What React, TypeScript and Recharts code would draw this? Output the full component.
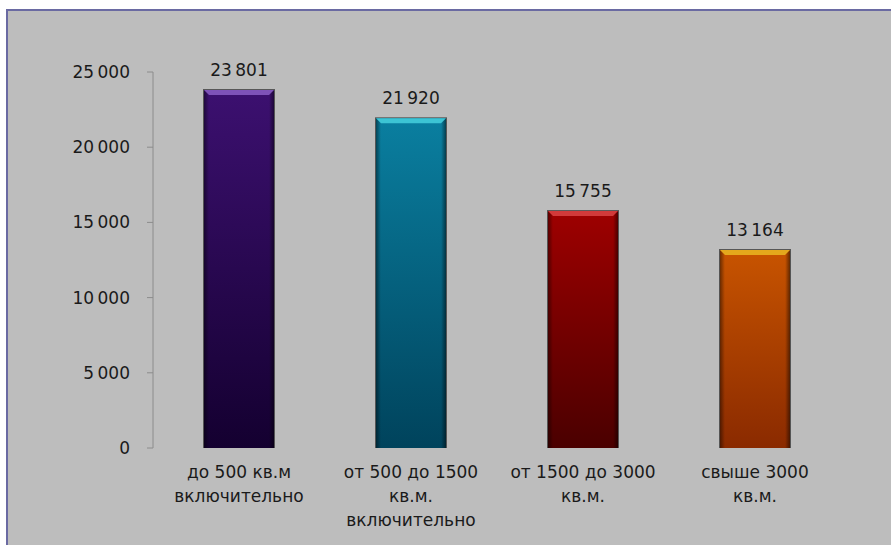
import { BarChart, Bar, XAxis, YAxis, LabelList } from 'recharts';

const categories = [
  'до 500 кв.м\nвключительно',
  'от 500 до 1500\nкв.м.\nвключительно',
  'от 1500 до 3000\nкв.м.',
  'свыше 3000\nкв.м.',
];
const values = [23801, 21920, 15755, 13164];
const yTicks = [0, 5000, 10000, 15000, 20000, 25000];

// top, bottom, bevel colours per bar
const barColors = [
  { top: '#3c1070', bottom: '#140030', bevel: '#7e52b8' },
  { top: '#0a7fa0', bottom: '#00435c', bevel: '#3cc4d4' },
  { top: '#9e0000', bottom: '#4a0000', bevel: '#d23a3a' },
  { top: '#c85400', bottom: '#8a2a00', bevel: '#e4a81c' },
];

const data = categories.map((name, i) => ({ name, value: values[i], idx: i }));

// thin space as thousands separator, like the original
const fmt = (v: number) => String(v).replace(/\B(?=(\d{3})+(?!\d))/g, '\u2009');

const FONT = '"DejaVu Sans", Verdana, sans-serif';

const BarShape = (props: any) => {
  const { x, y, width, height, index } = props;
  if (!height || height <= 0) return null;
  const b = 5;
  return (
    <g>
      <rect x={x - 1} y={y - 1} width={width + 2} height={height + 1} fill="#000" opacity={0.55} />
      <rect x={x} y={y} width={width} height={height} fill={`url(#bar-v-${index})`} />
      <rect x={x} y={y} width={width} height={height} fill="url(#bar-edge)" />
      <polygon
        points={`${x},${y} ${x + width},${y} ${x + width - b},${y + b} ${x + b},${y + b}`}
        fill={barColors[index].bevel}
      />
    </g>
  );
};

const CatTick = (props: any) => {
  const { x, y, payload } = props;
  const lines = String(payload.value).split('\n');
  return (
    <text x={x} y={y} textAnchor="middle" fontFamily={FONT} fontSize={17} fill="#1a1a1a">
      {lines.map((l, i) => (
        <tspan key={i} x={x} dy={i === 0 ? 30 : 24}>
          {l}
        </tspan>
      ))}
    </text>
  );
};

export default function App() {
  return (
    <div style={{ position: 'absolute', left: 0, top: 0, width: 891, height: 545, background: '#fff' }}>
      <div
        style={{
          position: 'absolute',
          left: 6,
          top: 9,
          right: 0,
          bottom: 0,
          background: '#bdbdbd',
          borderTop: '2px solid #6a6aa2',
          borderLeft: '2px solid #6a6aa2',
        }}
      />
      <div style={{ position: 'absolute', left: 0, top: 0 }}>
        <BarChart width={891} height={545} data={data} margin={{ top: 72, right: 50, bottom: 0, left: 0 }}>
          <defs>
            {barColors.map((c, i) => (
              <linearGradient key={i} id={`bar-v-${i}`} x1="0" y1="0" x2="0" y2="1">
                <stop offset="0%" stopColor={c.top} />
                <stop offset="100%" stopColor={c.bottom} />
              </linearGradient>
            ))}
            <linearGradient id="bar-edge" x1="0" y1="0" x2="1" y2="0">
              <stop offset="0%" stopColor="#000" stopOpacity={0.45} />
              <stop offset="7%" stopColor="#000" stopOpacity={0} />
              <stop offset="93%" stopColor="#000" stopOpacity={0} />
              <stop offset="100%" stopColor="#000" stopOpacity={0.5} />
            </linearGradient>
          </defs>
          <XAxis
            xAxisId="edges"
            type="number"
            domain={[0, categories.length]}
            ticks={categories.map((_, i) => i).concat([categories.length])}
            tickFormatter={() => ''}
            height={0}
            stroke="#9a9a9a"
            tickSize={5}
          />
          <XAxis
            xAxisId="cat"
            dataKey="name"
            height={97}
            axisLine={false}
            tickLine={false}
            tickSize={0}
            tickMargin={0}
            interval={0}
            tick={<CatTick />}
          />
          <YAxis
            width={153}
            domain={[0, 25000]}
            ticks={yTicks}
            interval={0}
            tickFormatter={fmt}
            stroke="#8c8c8c"
            tickSize={6}
            tickMargin={17}
            tick={{ fontFamily: FONT, fontSize: 17, fill: '#1a1a1a' }}
          />
          <Bar xAxisId="cat" dataKey="value" barSize={70} shape={<BarShape />} isAnimationActive={false}>
            <LabelList
              dataKey="value"
              position="top"
              offset={14}
              formatter={(v: any) => fmt(Number(v))}
              style={{ fontFamily: FONT, fontSize: 17, fill: '#1a1a1a' }}
            />
          </Bar>
        </BarChart>
      </div>
    </div>
  );
}
